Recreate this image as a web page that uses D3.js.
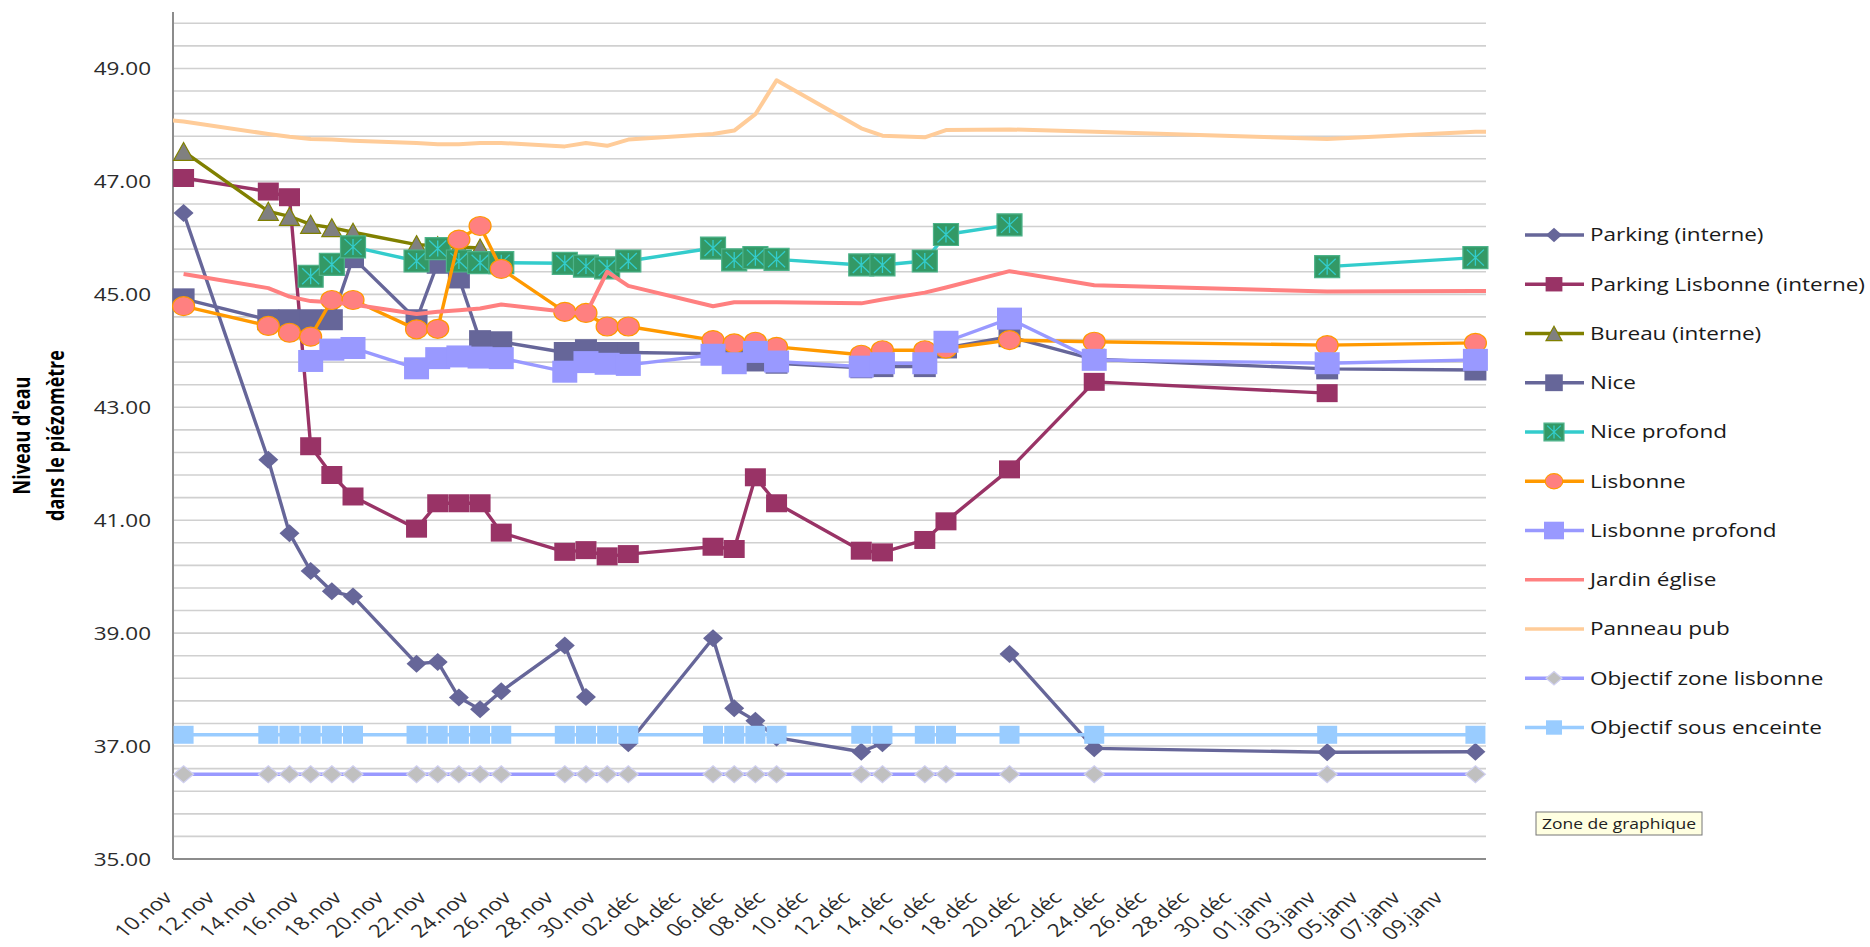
<!DOCTYPE html>
<meta charset="utf-8">
<style>
    body { margin: 0; background: #fff; }
    text { font-family: "Open Sans", sans-serif; }
</style>
<script src="https://cdn.jsdelivr.net/npm/d3@7/dist/d3.min.js"></script>
<body>
<script>
    // one row per measurement date (blank cell = null, which breaks the line)
    var dates = ["2011-11-09", "2011-11-10", "2011-11-14", "2011-11-15", "2011-11-16", "2011-11-17",
        "2011-11-18", "2011-11-21", "2011-11-22", "2011-11-23", "2011-11-24", "2011-11-25",
        "2011-11-28", "2011-11-29", "2011-11-30", "2011-12-01", "2011-12-05", "2011-12-06",
        "2011-12-07", "2011-12-08", "2011-12-12", "2011-12-13", "2011-12-15", "2011-12-16",
        "2011-12-19", "2011-12-23", "2012-01-03", "2012-01-10", "2012-01-11"];

    var parking = [null, 46.44, 42.07, 40.77, 40.10, 39.74, 39.65, 38.46, 38.49, 37.86, 37.65, 37.97,
        38.78, 37.87, null, 37.05, 38.91, 37.67, 37.45, 37.15, 36.90, 37.05, null, null,
        38.63, 36.96, 36.89, 36.90, null];
    var parkingLisbonne = [null, 47.06, 46.82, 46.72, 42.31, 41.80, 41.42, 40.85, 41.30, 41.30, 41.30, 40.78,
        40.44, 40.47, 40.36, 40.40, 40.53, 40.49, 41.76, 41.30, 40.46, 40.43, 40.65, 40.98,
        41.90, 43.45, 43.25, null, null];
    var bureau = [null, 47.53, 46.47, 46.38, 46.24, 46.18, 46.10, 45.88, 45.86, 45.84, 45.82, null,
        null, null, null, null, null, null, null, null, null, null, null, null,
        null, null, null, null, null];
    var nice = [null, 44.92, 44.55, 44.55, 44.55, 44.55, 45.65, 44.55, 45.55, 45.29, 44.18, 44.16,
        43.97, 44.02, 43.97, 43.97, 43.95, 43.85, 43.82, 43.78, 43.70, 43.72, 43.72, 44.05,
        44.25, 43.85, 43.68, 43.66, null];
    var niceProfond = [null, null, null, null, 45.32, 45.53, 45.84, 45.59, 45.81, 45.59, 45.56, 45.56,
        45.55, 45.50, 45.47, 45.59, 45.82, 45.61, 45.65, 45.62, 45.52, 45.52, 45.59, 46.06,
        46.23, null, 45.49, 45.65, null];
    var lisbonne = [null, 44.79, 44.44, 44.32, 44.25, 44.90, 44.90, 44.38, 44.39, 45.97, 46.21, 45.45,
        44.69, 44.67, 44.43, 44.43, 44.19, 44.13, 44.16, 44.07, 43.93, 44.01, 44.01, 44.04,
        44.19, 44.16, 44.10, 44.14, null];
    var lisbonneProfond = [null, null, null, null, 43.82, 44.02, 44.05, 43.69, 43.87, 43.90, 43.88, 43.87,
        43.63, 43.80, 43.77, 43.75, 43.93, 43.78, 43.98, 43.81, 43.72, 43.78, 43.78, 44.16,
        44.57, 43.84, 43.78, 43.84, null];
    var jardinEglise = [null, 45.36, 45.11, 44.96, 44.88, 44.86, 44.82, 44.65, 44.69, 44.72, 44.75, 44.82,
        44.69, 44.65, 45.40, 45.15, 44.79, 44.86, 44.86, 44.86, 44.84, 44.91, 45.03, 45.12,
        45.41, 45.16, 45.05, 45.06, 45.06];
    var panneauPub = [48.10, 48.06, 47.84, 47.79, 47.75, 47.74, 47.72, 47.68, 47.66, 47.66, 47.68, 47.68,
        47.62, 47.68, 47.63, 47.74, 47.84, 47.90, 48.19, 48.79, 47.94, 47.81, 47.78, 47.91,
        47.92, 47.88, 47.75, 47.88, 47.88];
    var objectifZoneLisbonne = dates.map(function(d, i) { return (i === 0 || i === dates.length - 1) ? null : 36.5; });
    var objectifSousEnceinte = dates.map(function(d, i) { return (i === 0 || i === dates.length - 1) ? null : 37.2; });

    var yTicks = [35, 37, 39, 41, 43, 45, 47, 49];
    var xStart = "2011-11-10", xEnd = "2012-01-11";

    var series = [
        {name: "Parking (interne)", values: parking, line: "#666699", fill: "#666699", shape: "diamond", w: 20, h: 18},
        {name: "Parking Lisbonne (interne)", values: parkingLisbonne, line: "#993366", fill: "#993366", shape: "square", w: 21, h: 18},
        {name: "Bureau (interne)", values: bureau, line: "#808000", fill: "#808080", stroke: "#808000", shape: "triangle", w: 20, h: 18},
        {name: "Nice", values: nice, line: "#666699", fill: "#666699", shape: "square", w: 22, h: 21},
        {name: "Nice profond", values: niceProfond, line: "#33CCCC", fill: "#339966", stroke: "#4db38a", shape: "star", w: 25, h: 22},
        {name: "Lisbonne", values: lisbonne, line: "#FF9900", fill: "#FF8080", stroke: "#FF9900", shape: "circle", w: 22, h: 19},
        {name: "Lisbonne profond", values: lisbonneProfond, line: "#9999FF", fill: "#9999FF", shape: "square", w: 25, h: 22},
        {name: "Jardin église", values: jardinEglise, line: "#FF8080", shape: null, lw: 4},
        {name: "Panneau pub", values: panneauPub, line: "#FFCC99", shape: null, lw: 4},
        {name: "Objectif zone lisbonne", values: objectifZoneLisbonne, line: "#9999FF", fill: "#C0C0C0", stroke: "#d0d0f0", shape: "diamond", w: 20, h: 17},
        {name: "Objectif sous enceinte", values: objectifSousEnceinte, line: "#99CCFF", fill: "#99CCFF", shape: "square", w: 20, h: 18}
    ];

    var width = 1870, height = 947;
    var plot = {left: 173, right: 1486, top: 12, bottom: 859};
    var stretch = 1.25;

    var parse = d3.utcParse("%Y-%m-%d");
    var fr = d3.timeFormatLocale({
        dateTime: "%A %e %B %Y à %X", date: "%d/%m/%Y", time: "%H:%M:%S", periods: ["AM", "PM"],
        days: ["dimanche", "lundi", "mardi", "mercredi", "jeudi", "vendredi", "samedi"],
        shortDays: ["dim.", "lun.", "mar.", "mer.", "jeu.", "ven.", "sam."],
        months: ["janvier", "février", "mars", "avril", "mai", "juin", "juillet", "août", "septembre", "octobre", "novembre", "décembre"],
        shortMonths: ["janv", "févr", "mars", "avr", "mai", "juin", "juil", "août", "sept", "oct", "nov", "déc"]
    });
    var fmtDay = fr.utcFormat("%d.%b");

    var x = d3.scaleUtc().domain([parse(xStart), parse(xEnd)]).range([plot.left, plot.right]);
    var y = d3.scaleLinear().domain([35, 50]).range([plot.bottom, plot.top]);
    var px = function(i) { return x(d3.utcHour.offset(parse(dates[i]), 12)); };

    var svg = d3.select("body").append("svg")
        .attr("width", width)
        .attr("height", height);

    svg.append("clipPath").attr("id", "plotClip")
        .append("rect")
        .attr("x", plot.left).attr("y", plot.top)
        .attr("width", plot.right - plot.left).attr("height", plot.bottom - plot.top);

    // gridlines every 0.4
    var grid = d3.range(1, 38).map(function(k) { return 35 + k * 0.4; });
    svg.append("g").selectAll("line")
        .data(grid)
        .enter().append("line")
        .attr("x1", plot.left).attr("x2", plot.right)
        .attr("y1", function(d) { return y(d); }).attr("y2", function(d) { return y(d); })
        .attr("stroke", "#d0d0d0").attr("stroke-width", 1.6);

    // y axis
    var yAxis = svg.append("g")
        .attr("transform", "translate(" + plot.left + ",0)")
        .call(d3.axisLeft(y).tickValues(yTicks).tickSize(0).tickFormat(d3.format(".2f")));
    yAxis.select(".domain").remove();
    yAxis.selectAll("text")
        .attr("x", 0).attr("dy", "0.35em")
        .attr("transform", "translate(-22,0) scale(" + stretch + ",1)")
        .attr("font-size", 18).attr("fill", "#2b2b2b").attr("font-family", "Open Sans");

    // x axis labels every 2 days
    var xTicks = d3.utcDay.range(parse(xStart), parse("2012-01-10"), 2);
    var xAxis = svg.append("g")
        .attr("transform", "translate(0," + plot.bottom + ")")
        .call(d3.axisBottom(x).tickValues(xTicks).tickSize(0).tickFormat(fmtDay));
    xAxis.select(".domain").remove();
    xAxis.selectAll("text")
        .attr("x", 0).attr("y", 0).attr("dy", 0)
        .attr("text-anchor", "end")
        .attr("transform", "translate(0,40) scale(" + stretch + ",1) rotate(-45)")
        .attr("font-size", 18).attr("fill", "#2b2b2b").attr("font-family", "Open Sans");

    svg.append("line")
        .attr("x1", plot.left).attr("x2", plot.left).attr("y1", plot.top).attr("y2", plot.bottom)
        .attr("stroke", "#8c8c8c").attr("stroke-width", 2);
    svg.append("line")
        .attr("x1", plot.left).attr("x2", plot.right).attr("y1", plot.bottom).attr("y2", plot.bottom)
        .attr("stroke", "#8c8c8c").attr("stroke-width", 2);

    // y title
    [["Niveau d'eau", 22], ["dans le piézomètre", 56]].forEach(function(t) {
        svg.append("text")
            .attr("transform", "translate(" + t[1] + "," + (plot.top + plot.bottom) / 2 + ") scale(" + stretch + ",1) rotate(-90)")
            .attr("text-anchor", "middle").attr("dy", "0.35em")
            .attr("font-size", 18).attr("font-weight", "bold").attr("fill", "#000")
            .text(t[0]);
    });

    function markerPath(shape, w, h) {
        var a = w / 2, b = h / 2;
        if (shape === "diamond") return "M0," + (-b) + "L" + a + ",0L0," + b + "L" + (-a) + ",0Z";
        if (shape === "triangle") return "M0," + (-b) + "L" + a + "," + b + "L" + (-a) + "," + b + "Z";
        if (shape === "circle") return "M" + (-a) + ",0A" + a + "," + b + " 0 1,0 " + a + ",0A" + a + "," + b + " 0 1,0 " + (-a) + ",0Z";
        return "M" + (-a) + "," + (-b) + "H" + a + "V" + b + "H" + (-a) + "Z";
    }

    function drawMarker(g, s, k) {
        var w = s.w * k, h = s.h * k;
        g.append("path")
            .attr("d", markerPath(s.shape, w, h))
            .attr("fill", s.fill)
            .attr("stroke", s.stroke || "none")
            .attr("stroke-width", 1.2);
        if (s.shape === "star") {
            var a = w / 2 - 4 * k, b = h / 2 - 3 * k;
            g.append("path")
                .attr("d", "M0," + (-b) + "V" + b + "M" + (-a) + "," + (-b) + "L" + a + "," + b + "M" + a + "," + (-b) + "L" + (-a) + "," + b)
                .attr("stroke", "#33CCCC").attr("stroke-width", 1.3).attr("fill", "none");
        }
    }

    var line = d3.line()
        .defined(function(d) { return d.v != null; })
        .x(function(d) { return px(d.i); })
        .y(function(d) { return y(d.v); });

    series.forEach(function(s) {
        var pts = s.values.map(function(v, i) { return {i: i, v: v}; });
        var g = svg.append("g");
        g.append("path")
            .datum(pts)
            .attr("clip-path", "url(#plotClip)")
            .attr("fill", "none")
            .attr("stroke", s.line)
            .attr("stroke-width", s.lw || 3.4)
            .attr("stroke-linejoin", "round")
            .attr("d", line);
        if (s.shape) {
            g.selectAll("g.mk")
                .data(pts.filter(function(d) { return d.v != null; }))
                .enter().append("g")
                .attr("class", "mk")
                .attr("transform", function(d) { return "translate(" + px(d.i) + "," + y(d.v) + ")"; })
                .each(function() { drawMarker(d3.select(this), s, 1); });
        }
    });

    // legend
    var legend = svg.append("g").attr("transform", "translate(1525,235)");
    series.forEach(function(s, k) {
        var row = legend.append("g").attr("transform", "translate(0," + (k * 49.25) + ")");
        row.append("line").attr("x1", 0).attr("x2", 59)
            .attr("stroke", s.line).attr("stroke-width", 3.4);
        if (s.shape) {
            drawMarker(row.append("g").attr("transform", "translate(29,0)"), s, 0.8);
        }
        row.append("text")
            .attr("transform", "translate(65,0) scale(" + stretch + ",1)")
            .attr("dy", "0.35em")
            .attr("font-size", 18).attr("fill", "#1a1a1a")
            .text(s.name);
    });

    // tooltip box seen in the screenshot
    var tip = svg.append("g").attr("transform", "translate(1536,812)");
    tip.append("rect").attr("width", 166).attr("height", 23)
        .attr("fill", "#FFFFE1").attr("stroke", "#767676").attr("stroke-width", 1);
    tip.append("text")
        .attr("transform", "translate(6,12) scale(" + stretch + ",1)")
        .attr("dy", "0.35em").attr("font-size", 14).attr("fill", "#222")
        .text("Zone de graphique");
</script>
